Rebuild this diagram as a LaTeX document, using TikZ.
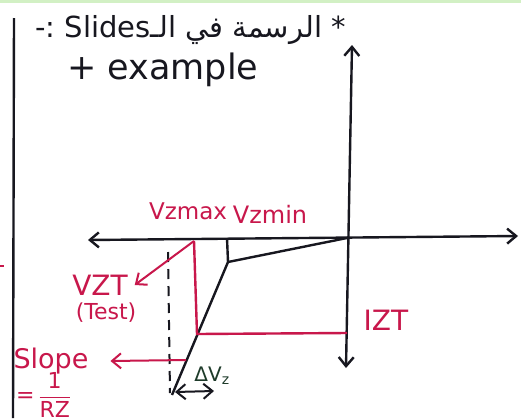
\documentclass[tikz,border=0pt]{standalone}
\usepackage{amsmath}
\usepackage{fontspec}
\setmainfont{DejaVu Sans}
\newfontfamily\arabicfont[Script=Arabic]{DejaVu Sans}
\TeXXeTstate=1
\usetikzlibrary{arrows.meta}
\definecolor{inkred}{HTML}{C8174B}
\definecolor{inkblack}{HTML}{17171F}
\definecolor{inkgreen}{HTML}{1E3B2A}
\definecolor{topgreen}{HTML}{D2F0C4}

\begin{document}
\begin{tikzpicture}[x=1pt, y=-1pt, >={Straight Barb[length=9pt,width=15pt]},
    line width=2.4pt, inkblack,
    redlbl/.style={text=inkred, inner sep=0pt},
    blklbl/.style={text=inkblack, inner sep=0pt}]
    \useasboundingbox (0,0) rectangle (521,418);
    \fill[white] (0,0) rectangle (521,418);
    \fill[topgreen] (0,0) rectangle (521,3);

    % margin line
    \coordinate (lt) at (14,18);
    \coordinate (lb) at (13,418);
    \draw (lt) -- (lb);
    \draw[inkred, line width=1.6pt] (0,266) -- (4,266);

    % heading
    \node[blklbl, anchor=east, font=\fontsize{29}{32}\selectfont] (title) at (347,30)
        {\arabicfont\beginR * الرسمة في الـ\beginL Slides\endL{} :-\endR};
    \node[blklbl, anchor=west, font=\fontsize{35}{38}\selectfont] (example) at (66,70) {+ example};

    % axes
    \coordinate (O) at (347,238);
    \coordinate (xl) at (88,240);
    \coordinate (xr) at (518,236);
    \coordinate (yt) at (352,45);
    \coordinate (yb) at (346,368);
    \draw[<->] (xl) -- (xr);
    \draw[<->] (yt) -- (yb);

    % zener characteristic
    \coordinate (vmin) at (227,238);
    \coordinate (knee) at (228,262);
    \coordinate (tip) at (172,395);
    \draw (vmin) -- (knee);
    \draw (O) -- (knee) -- (tip);
    \draw[line width=2pt, dash pattern=on 10pt off 7pt] (168,252) -- (170,393);
    \draw[<->, line width=2pt] (175,392) -- (214,391);

    % test point
    \coordinate (vmax) at (194,241);
    \coordinate (test) at (197,334);
    \coordinate (izt) at (347,333);
    \draw[inkred] (vmax) -- (test) -- (izt);

    % labels
    \node[redlbl, font=\fontsize{23}{26}\selectfont] (vzmax) at (188,211) {Vzmax};
    \node[redlbl, font=\fontsize{24}{26}\selectfont] (vzmin) at (270,214) {Vzmin};
    \node[redlbl, font=\fontsize{28}{30}\selectfont, outer sep=7pt] (vzt) at (100,285) {VZT};
    \node[redlbl, font=\fontsize{22}{24}\selectfont] (testlbl) at (106,313) {(Test)};
    \node[redlbl, font=\fontsize{28}{30}\selectfont] (iztlbl) at (386,320) {IZT};
    \node[redlbl, font=\fontsize{27}{30}\selectfont, outer sep=22pt] (slope) at (51,361) {Slope};
    \node[redlbl, font=\fontsize{22}{24}\selectfont, anchor=west] (rz) at (15,395)
        {=\,$\dfrac{\text{1}}{\text{RZ}}$};
    \node[text=inkgreen, inner sep=0pt, font=\fontsize{20}{22}\selectfont] (dvz) at (212,376) {ΔV\textsubscript{z}};

    \draw[->, inkred, line width=2pt] (vmax) -- (vzt.east);
    \draw[->, inkred, line width=2pt] (186,360) -- (slope.east);
\end{tikzpicture}
\end{document}
